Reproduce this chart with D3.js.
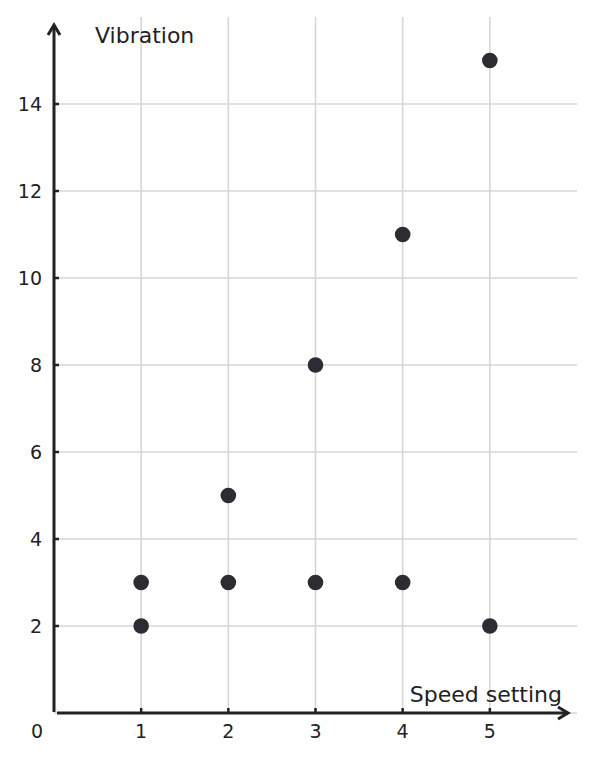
<!DOCTYPE html>
<html>
<head>
<meta charset="utf-8">
<script src="https://d3js.org/d3.v7.min.js"></script>
<style>
  body { margin: 0; background: #fff; }
  text { font-family: "DejaVu Sans", sans-serif; fill: #222; }
</style>
</head>
<body>
<div id="chart"></div>
<script>
// 数据：速度档位与振动
const speed = [1, 1, 2, 2, 3, 3, 4, 4, 5, 5];
const vibration = [2, 3, 3, 5, 3, 8, 3, 11, 2, 15];
const xTicks = [1, 2, 3, 4, 5];
const yTicks = [2, 4, 6, 8, 10, 12, 14];

const width = 593, height = 761;
const svg = d3.select("#chart").append("svg")
    .attr("width", width)
    .attr("height", height);

// 比例尺
const x = d3.scaleLinear().domain([0, 6]).range([54, 577]);
const y = d3.scaleLinear().domain([0, 16]).range([713, 17]);

// 网格线
svg.selectAll(".vgrid")
    .data(xTicks)
    .enter().append("line")
    .attr("x1", d => x(d)).attr("x2", d => x(d))
    .attr("y1", y(16)).attr("y2", y(0))
    .attr("stroke", "#d6d6d6").attr("stroke-width", 1.6);

svg.selectAll(".hgrid")
    .data([0].concat(yTicks))
    .enter().append("line")
    .attr("x1", x(0)).attr("x2", x(6))
    .attr("y1", d => y(d)).attr("y2", d => y(d))
    .attr("stroke", "#d6d6d6").attr("stroke-width", 1.6);

// 坐标轴
const axisColor = "#222";
svg.append("line")
    .attr("x1", x(0)).attr("x2", x(0))
    .attr("y1", y(0) - 1).attr("y2", 25)
    .attr("stroke", axisColor).attr("stroke-width", 3);
svg.append("path")
    .attr("d", `M${x(0) - 6},${35} L${x(0)},${25} L${x(0) + 6},${35}`)
    .attr("fill", "none").attr("stroke", axisColor).attr("stroke-width", 3)
    .attr("stroke-linejoin", "miter");

svg.append("line")
    .attr("x1", x(0) + 3).attr("x2", 568)
    .attr("y1", y(0)).attr("y2", y(0))
    .attr("stroke", axisColor).attr("stroke-width", 3);
svg.append("path")
    .attr("d", `M${558},${y(0) - 6} L${568},${y(0)} L${558},${y(0) + 6}`)
    .attr("fill", "none").attr("stroke", axisColor).attr("stroke-width", 3);

// 刻度
svg.selectAll(".xtick")
    .data(xTicks)
    .enter().append("line")
    .attr("x1", d => x(d)).attr("x2", d => x(d))
    .attr("y1", y(0) - 5).attr("y2", y(0))
    .attr("stroke", axisColor).attr("stroke-width", 2.5);

svg.selectAll(".ytick")
    .data(yTicks)
    .enter().append("line")
    .attr("x1", x(0)).attr("x2", x(0) + 5)
    .attr("y1", d => y(d)).attr("y2", d => y(d))
    .attr("stroke", axisColor).attr("stroke-width", 2.5);

svg.selectAll(".xlabel")
    .data(xTicks)
    .enter().append("text")
    .attr("x", d => x(d)).attr("y", 738)
    .attr("text-anchor", "middle")
    .attr("font-size", 19)
    .text(d => d);

svg.selectAll(".ylabel")
    .data(yTicks)
    .enter().append("text")
    .attr("x", 42).attr("y", d => y(d) + 7)
    .attr("text-anchor", "end")
    .attr("font-size", 19)
    .text(d => d);

svg.append("text")
    .attr("x", 43).attr("y", 738)
    .attr("text-anchor", "end")
    .attr("font-size", 19)
    .text("0");

// 轴标题
svg.append("text")
    .attr("x", 95).attr("y", 43)
    .attr("font-size", 22)
    .text("Vibration");
svg.append("text")
    .attr("x", 562).attr("y", 702)
    .attr("text-anchor", "end")
    .attr("font-size", 22)
    .text("Speed setting");

// 散点
svg.selectAll(".dot")
    .data(speed.map((s, i) => ({ s: s, v: vibration[i] })))
    .enter().append("circle")
    .attr("cx", d => x(d.s))
    .attr("cy", d => y(d.v))
    .attr("r", 7.8)
    .attr("fill", "#2b2d33");
</script>
</body>
</html>
